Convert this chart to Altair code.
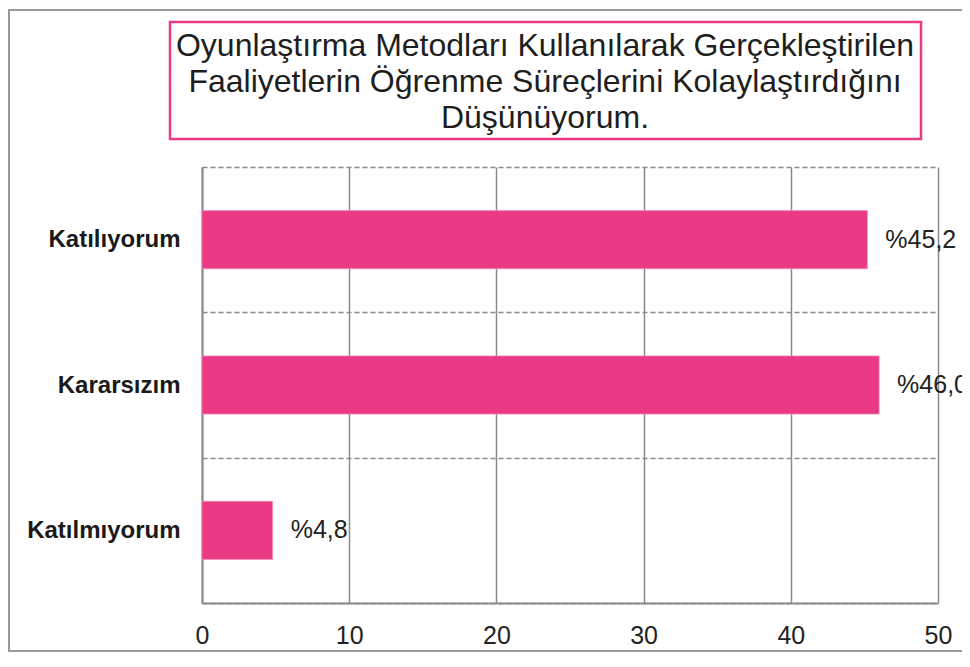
import altair as alt
import pandas as pd

CATEGORIES = ["Katılıyorum", "Kararsızım", "Katılmıyorum"]
VALUES = [45.2, 46.0, 4.8]
X_TICKS = [0, 10, 20, 30, 40, 50]
TITLE_LINES = [
    "Oyunlaştırma Metodları Kullanılarak Gerçekleştirilen",
    "Faaliyetlerin Öğrenme Süreçlerini Kolaylaştırdığını",
    "Düşünüyorum.",
]

df = pd.DataFrame({
    "cat": CATEGORIES,
    "val": VALUES,
    "label": ["%" + f"{v:.1f}".replace(".", ",") for v in VALUES],
})

PINK = "#EA3A86"
GRID = "#8a8a8a"
FONT = "Liberation Sans"

y_enc = alt.Y(
    "cat:N",
    sort=CATEGORIES,
    title=None,
    scale=alt.Scale(paddingInner=0, paddingOuter=0),
    axis=alt.Axis(
        tickBand="extent",
        grid=True,
        gridColor=GRID,
        gridDash=[5, 3],
        gridWidth=1.5,
        ticks=False,
        tickSize=0,
        domain=True,
        domainColor=GRID,
        domainWidth=2,
        labelFont=FONT,
        labelFontSize=24,
        labelFontWeight="bold",
        labelColor="#1a1a1a",
        labelPadding=22,
    ),
)

x_enc = alt.X(
    "val:Q",
    title=None,
    scale=alt.Scale(domain=[0, 50], nice=False),
    axis=alt.Axis(
        values=X_TICKS,
        grid=True,
        gridColor=GRID,
        gridWidth=1.5,
        ticks=False,
        tickSize=0,
        domain=True,
        domainColor=GRID,
        domainWidth=2,
        labelFont=FONT,
        labelFontSize=25,
        labelColor="#222222",
        labelPadding=20,
        labelFlush=False,
    ),
)

bars = alt.Chart(df).mark_bar(
    color=PINK, stroke="#f48ab8", strokeWidth=0.8, height={"band": 0.4}
).encode(x=x_enc, y=y_enc)

labels = alt.Chart(df).mark_text(
    align="left", baseline="middle", dx=18, font=FONT, fontSize=25, color="#222222"
).encode(x="val:Q", y=alt.Y("cat:N", sort=CATEGORIES), text="label:N")

one = pd.DataFrame({"k": [0]})

frame = alt.Chart(one).mark_rect(
    fill=None, stroke="#9a9a9a", strokeWidth=2
).encode(
    x=alt.value(-193), x2=alt.value(800), y=alt.value(-157), y2=alt.value(484)
)

title_box = alt.Chart(one).mark_rect(
    fill="white", stroke=PINK, strokeWidth=2.5
).encode(
    x=alt.value(-32), x2=alt.value(719), y=alt.value(-145), y2=alt.value(-28)
)

title_text = alt.Chart(one).mark_text(
    align="center", baseline="middle", font=FONT, fontSize=32, lineHeight=36, color="#1e1e1e"
).encode(
    x=alt.value(343), y=alt.value(-121), text=alt.value(TITLE_LINES)
)

chart = alt.layer(frame, title_box, title_text, bars, labels).properties(
    width=736,
    height=436,
    autosize=alt.AutoSizeParams(type="none"),
    padding={"left": 194, "top": 159, "right": 24, "bottom": 50},
    background="white",
).configure_view(stroke=None)

chart.save("out.html", embed_options={"renderer": "svg", "actions": False})
